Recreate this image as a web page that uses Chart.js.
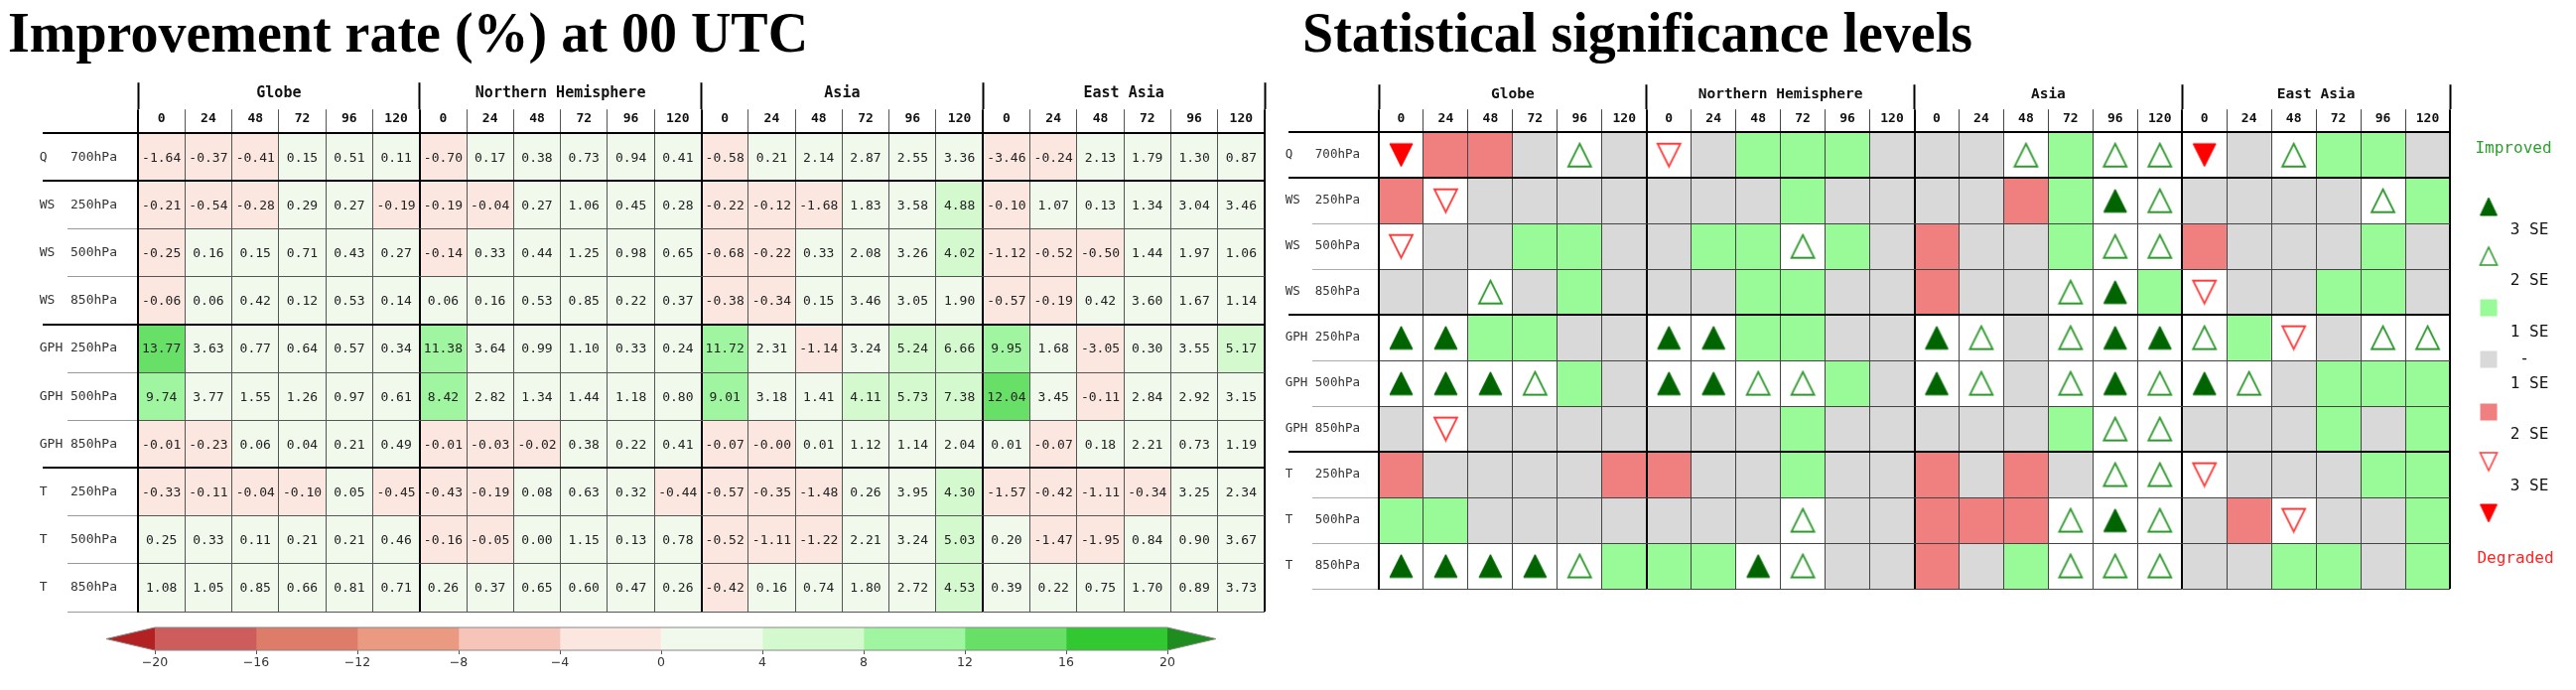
<!DOCTYPE html>
<html>
<head>
<meta charset="utf-8">
<script src="https://cdn.jsdelivr.net/npm/chart.js@4.4.1/dist/chart.umd.min.js"></script>
<style>
  html, body { margin: 0; padding: 0; background: #fff; }
  body { width: 2595px; height: 695px; position: relative; overflow: hidden; }
  canvas { position: absolute; }
  #rateChart { left: 0; top: 0; }
  #barChart { left: 0; top: 620px; }
  #sigChart { left: 1280px; top: 0; }
</style>
</head>
<body>
<canvas id="rateChart" width="1280" height="695"></canvas>
<canvas id="barChart" width="1280" height="75"></canvas>
<canvas id="sigChart" width="1315" height="695"></canvas>
<script>
// ---- data ----
const regions = ['Globe', 'Northern Hemisphere', 'Asia', 'East Asia'];
const leadHours = [0, 24, 48, 72, 96, 120];
const rowVars = ['Q', 'WS', 'WS', 'WS', 'GPH', 'GPH', 'GPH', 'T', 'T', 'T'];
const rowLevels = ['700hPa', '250hPa', '500hPa', '850hPa', '250hPa', '500hPa', '850hPa', '250hPa', '500hPa', '850hPa'];

// improvement rate (%), rows as above, columns = lead hours
const rateGlobe = [
  [-1.64, -0.37, -0.41, 0.15, 0.51, 0.11],
  [-0.21, -0.54, -0.28, 0.29, 0.27, -0.19],
  [-0.25, 0.16, 0.15, 0.71, 0.43, 0.27],
  [-0.06, 0.06, 0.42, 0.12, 0.53, 0.14],
  [13.77, 3.63, 0.77, 0.64, 0.57, 0.34],
  [9.74, 3.77, 1.55, 1.26, 0.97, 0.61],
  [-0.01, -0.23, 0.06, 0.04, 0.21, 0.49],
  [-0.33, -0.11, -0.04, -0.10, 0.05, -0.45],
  [0.25, 0.33, 0.11, 0.21, 0.21, 0.46],
  [1.08, 1.05, 0.85, 0.66, 0.81, 0.71]
];
const rateNH = [
  [-0.70, 0.17, 0.38, 0.73, 0.94, 0.41],
  [-0.19, -0.04, 0.27, 1.06, 0.45, 0.28],
  [-0.14, 0.33, 0.44, 1.25, 0.98, 0.65],
  [0.06, 0.16, 0.53, 0.85, 0.22, 0.37],
  [11.38, 3.64, 0.99, 1.10, 0.33, 0.24],
  [8.42, 2.82, 1.34, 1.44, 1.18, 0.80],
  [-0.01, -0.03, -0.02, 0.38, 0.22, 0.41],
  [-0.43, -0.19, 0.08, 0.63, 0.32, -0.44],
  [-0.16, -0.05, 0.00, 1.15, 0.13, 0.78],
  [0.26, 0.37, 0.65, 0.60, 0.47, 0.26]
];
const rateAsia = [
  [-0.58, 0.21, 2.14, 2.87, 2.55, 3.36],
  [-0.22, -0.12, -1.68, 1.83, 3.58, 4.88],
  [-0.68, -0.22, 0.33, 2.08, 3.26, 4.02],
  [-0.38, -0.34, 0.15, 3.46, 3.05, 1.90],
  [11.72, 2.31, -1.14, 3.24, 5.24, 6.66],
  [9.01, 3.18, 1.41, 4.11, 5.73, 7.38],
  [-0.07, -0.004, 0.01, 1.12, 1.14, 2.04],
  [-0.57, -0.35, -1.48, 0.26, 3.95, 4.30],
  [-0.52, -1.11, -1.22, 2.21, 3.24, 5.03],
  [-0.42, 0.16, 0.74, 1.80, 2.72, 4.53]
];
const rateEA = [
  [-3.46, -0.24, 2.13, 1.79, 1.30, 0.87],
  [-0.10, 1.07, 0.13, 1.34, 3.04, 3.46],
  [-1.12, -0.52, -0.50, 1.44, 1.97, 1.06],
  [-0.57, -0.19, 0.42, 3.60, 1.67, 1.14],
  [9.95, 1.68, -3.05, 0.30, 3.55, 5.17],
  [12.04, 3.45, -0.11, 2.84, 2.92, 3.15],
  [0.01, -0.07, 0.18, 2.21, 0.73, 1.19],
  [-1.57, -0.42, -1.11, -0.34, 3.25, 2.34],
  [0.20, -1.47, -1.95, 0.84, 0.90, 3.67],
  [0.39, 0.22, 0.75, 1.70, 0.89, 3.73]
];

// significance: F = improved 3 SE, H = improved 2 SE, G = improved 1 SE,
// N = within 1 SE, R = degraded 1 SE, h = degraded 2 SE, f = degraded 3 SE
const sigGlobe = ['fRRNHN', 'RhNNNN', 'hNNGGN', 'NNHNGN', 'FFGGNN', 'FFFHGN', 'NhNNNN', 'RNNNNR', 'GGNNNN', 'FFFFHG'];
const sigNH    = ['hNGGGN', 'NNNGNN', 'NGGHGN', 'NNGGNN', 'FFGGNN', 'FFHHGN', 'NNNGNN', 'RNNGNN', 'NNNHNN', 'GGFHNN'];
const sigAsia  = ['NNHGHH', 'NNRGFH', 'RNNGHH', 'RNNHFG', 'FHNHFF', 'FHNHFH', 'NNNGHH', 'RNRNHH', 'RRRHFH', 'RNGHHH'];
const sigEA    = ['fNHGGN', 'NNNNHG', 'RNNNGN', 'hNNGGN', 'HGhNHH', 'FHNGGG', 'NNNGNG', 'hNNNGG', 'NRhNNG', 'NNGGNG'];

const cbarEdges = [-20, -16, -12, -8, -4, 0, 4, 8, 12, 16, 20];
const cbarColors = ['#cd5c5c', '#de7c6a', '#ea9a80', '#f6c4b8', '#fce6e0', '#f1f8ec', '#d5f9cf', '#a0f6a0', '#68e068', '#32c832'];
const cbarUnder = '#b22222';
const cbarOver = '#1f8c1f';
const legendLabels = ['3 SE', '2 SE', '1 SE', '-', '1 SE', '2 SE', '3 SE'];

// ---- helpers ----
const rates = [rateGlobe, rateNH, rateAsia, rateEA];
const sigs = [sigGlobe, sigNH, sigAsia, sigEA];
const colKeys = regions.flatMap(g => leadHours.map(h => g + ' ' + h));
const rowLabels = rowVars.map((v, i) => v.padEnd(4, ' ') + rowLevels[i]);
const thickRows = [0, 1, 4, 7];
const nLead = leadHours.length;

const rateAt = (r, c) => rates[Math.floor(c / nLead)][r][c % nLead];
const sigAt = (r, c) => sigs[Math.floor(c / nLead)][r][c % nLead];

function rateColor(v) {
  if (v < cbarEdges[0]) return cbarUnder;
  if (v >= cbarEdges[cbarEdges.length - 1]) return cbarOver;
  const i = cbarEdges.findIndex((e, k) => v >= e && v < cbarEdges[k + 1]);
  return cbarColors[i];
}
const sigCellColor = { G: '#98fb98', N: '#d9d9d9', R: '#f08080', F: '#ffffff', H: '#ffffff', h: '#ffffff', f: '#ffffff' };

function triangleImage(w, h, down, fill, stroke, lw) {
  const cv = document.createElement('canvas');
  cv.width = w + 4; cv.height = h + 4;
  const c = cv.getContext('2d');
  c.beginPath();
  if (down) { c.moveTo(2, 2); c.lineTo(2 + w, 2); c.lineTo(2 + w / 2, 2 + h); }
  else { c.moveTo(2 + w / 2, 2); c.lineTo(2 + w, 2 + h); c.lineTo(2, 2 + h); }
  c.closePath();
  if (fill) { c.fillStyle = fill; c.fill(); }
  if (stroke) { c.lineWidth = lw; c.strokeStyle = stroke; c.stroke(); }
  return cv;
}
const symbolImages = {
  F: triangleImage(23, 23, false, '#006400', '#006400', 1),
  H: triangleImage(23, 23, false, '#ffffff', '#2e9a2e', 1.8),
  h: triangleImage(23, 23, true, '#ffffff', '#ff3b3b', 1.8),
  f: triangleImage(23, 23, true, '#ff0000', '#ff0000', 1)
};
const legendImages = {
  F: triangleImage(17, 18, false, '#006400', '#006400', 1),
  H: triangleImage(17, 18, false, '#ffffff', '#2e9a2e', 1.6),
  h: triangleImage(17, 18, true, '#ffffff', '#ff3b3b', 1.6),
  f: triangleImage(17, 18, true, '#ff0000', '#ff0000', 1)
};

Chart.defaults.font.family = '"DejaVu Sans Mono", monospace';
Chart.defaults.color = '#222';

const isEdge = c => c.index === undefined || c.index % nLead === 0;
const isThickRow = c => thickRows.includes(c.index);

// shared table axes: x = columns, xg = region headers, y = rows
function tableScales(s) {
  return {
    x: {
      type: 'category', position: 'top', offset: true,
      grid: {
        offset: true, z: 1,
        lineWidth: c => isEdge(c) ? 2 : 1,
        color: c => isEdge(c) ? '#000' : s.inner,
        tickLength: s.colTick,
        tickWidth: c => isEdge(c) ? 2 : 1,
        tickColor: c => isEdge(c) ? '#000' : s.inner
      },
      border: { display: true, width: 2, color: '#000', z: 1 },
      ticks: {
        autoSkip: false, maxRotation: 0, minRotation: 0, padding: s.colPad, color: '#111',
        font: { size: s.colFont, weight: 'bold' },
        callback: (v, i) => String(leadHours[i % nLead])
      },
      afterFit: sc => { sc.height = s.colTick; }
    },
    xg: {
      type: 'category', position: 'top', offset: true, weight: 1, labels: regions,
      grid: { offset: true, drawOnChartArea: false, tickLength: s.grpTick, tickWidth: 2, tickColor: '#000' },
      border: { display: false },
      ticks: { autoSkip: false, maxRotation: 0, padding: s.grpPad, color: '#111', font: { size: s.grpFont, weight: 'bold' } },
      afterFit: sc => { sc.height = s.grpHeight; }
    },
    y: {
      type: 'linear', min: 0, max: rowLabels.length, reverse: true,
      afterBuildTicks: sc => { sc.ticks = rowLabels.map((_, i) => ({ value: i + 0.5 })); },
      grid: {
        offset: true, z: 1,
        lineWidth: c => isThickRow(c) ? 2 : 1,
        color: c => isThickRow(c) ? '#000' : s.inner,
        tickLength: s.rowTick,
        tickWidth: c => isThickRow(c) ? 2 : 1,
        tickColor: c => isThickRow(c) ? '#000' : s.rowRule
      },
      border: { display: true, width: 2, color: '#000', z: 1 },
      ticks: {
        crossAlign: 'near', padding: s.rowPad, color: '#333',
        font: { size: s.rowFont },
        callback: (v, i) => rowLabels[i]
      },
      afterFit: sc => { sc.width = s.yWidth; }
    }
  };
}

// thick row rules reach further left into the label column
const rowRules = {
  id: 'rowRules',
  afterDraw(chart, args, opts) {
    const { ctx, chartArea } = chart;
    const y = chart.scales.y;
    ctx.save();
    ctx.strokeStyle = '#000';
    ctx.lineWidth = 2;
    thickRows.forEach(b => {
      const py = Math.round(y.getPixelForValue(b));
      ctx.beginPath();
      ctx.moveTo(opts.from, py);
      ctx.lineTo(chartArea.left, py);
      ctx.stroke();
    });
    ctx.restore();
  }
};

// lets the heading start right of the row-label column
const titleShift = {
  id: 'titleShift',
  afterLayout(chart, args, opts) {
    const t = chart.titleBlock;
    if (t && opts.dx) { t.left += opts.dx; t.right += opts.dx; }
  }
};

const cellText = {
  id: 'cellText',
  afterDatasetsDraw(chart) {
    const ctx = chart.ctx;
    ctx.save();
    ctx.font = '13px "DejaVu Sans Mono"';
    ctx.fillStyle = '#222';
    ctx.textAlign = 'center';
    ctx.textBaseline = 'middle';
    chart.data.datasets.forEach((ds, i) => {
      chart.getDatasetMeta(i).data.forEach((bar, c) => {
        const p = bar.getCenterPoint();
        ctx.fillText(ds.values[c].toFixed(2), p.x, p.y + 1);
      });
    });
    ctx.restore();
  }
};

const titleFont = { family: '"Liberation Serif", "Times New Roman", serif', size: 56, weight: 'bold' };

// ---- left: improvement rate table ----
new Chart(document.getElementById('rateChart'), {
  type: 'bar',
  data: {
    labels: colKeys,
    datasets: rowLabels.map((lab, r) => ({
      label: lab,
      data: colKeys.map(() => [r, r + 1]),
      values: colKeys.map((k, c) => rateAt(r, c)),
      backgroundColor: colKeys.map((k, c) => rateColor(rateAt(r, c))),
      borderWidth: 0,
      grouped: false,
      barPercentage: 1,
      categoryPercentage: 1
    }))
  },
  options: {
    responsive: false, animation: false, events: [], devicePixelRatio: 1,
    layout: { padding: { left: 8, right: 6, top: 0, bottom: 79 } },
    plugins: {
      legend: { display: false },
      tooltip: { enabled: false },
      title: { display: true, text: 'Improvement rate (%) at 00 UTC', align: 'start', color: '#000', font: titleFont, padding: { top: 4, bottom: 0 } },
      rowRules: { from: 43 }
    },
    scales: tableScales({
      inner: '#555', rowRule: '#999',
      colTick: 24, colPad: -17, colFont: 13,
      grpTick: 27, grpPad: -20, grpFont: 15, grpHeight: 39,
      rowTick: 71, rowPad: -50, rowFont: 13, yWidth: 131
    })
  },
  plugins: [cellText, rowRules]
});

// ---- colour bar ----
const cbarEnds = {
  id: 'cbarEnds',
  afterDatasetsDraw(chart) {
    const { ctx, chartArea: a } = chart;
    const x = chart.scales.x;
    const x0 = x.getPixelForValue(cbarEdges[0]);
    const x1 = x.getPixelForValue(cbarEdges[cbarEdges.length - 1]);
    const ext = (x1 - x0) * 0.048;
    const mid = (a.top + a.bottom) / 2;
    ctx.save();
    ctx.fillStyle = cbarUnder;
    ctx.beginPath(); ctx.moveTo(x0, a.top); ctx.lineTo(x0 - ext, mid); ctx.lineTo(x0, a.bottom); ctx.closePath(); ctx.fill();
    ctx.fillStyle = cbarOver;
    ctx.beginPath(); ctx.moveTo(x1, a.top); ctx.lineTo(x1 + ext, mid); ctx.lineTo(x1, a.bottom); ctx.closePath(); ctx.fill();
    ctx.strokeStyle = '#888';
    ctx.lineWidth = 1;
    ctx.beginPath();
    ctx.moveTo(x0 - ext, mid); ctx.lineTo(x0, a.top); ctx.lineTo(x1, a.top); ctx.lineTo(x1 + ext, mid);
    ctx.lineTo(x1, a.bottom); ctx.lineTo(x0, a.bottom); ctx.closePath();
    ctx.stroke();
    ctx.restore();
  }
};

new Chart(document.getElementById('barChart'), {
  type: 'bar',
  data: {
    labels: [''],
    datasets: cbarColors.map((col, i) => ({
      data: [[cbarEdges[i], cbarEdges[i + 1]]],
      backgroundColor: col,
      borderWidth: 0,
      grouped: false,
      barPercentage: 1,
      categoryPercentage: 1
    }))
  },
  options: {
    indexAxis: 'y', responsive: false, animation: false, events: [], devicePixelRatio: 1,
    layout: { padding: { left: 156, right: 104, top: 12, bottom: 0 } },
    plugins: { legend: { display: false }, tooltip: { enabled: false } },
    scales: {
      y: { display: false },
      x: {
        type: 'linear', min: cbarEdges[0], max: cbarEdges[cbarEdges.length - 1], position: 'bottom',
        ticks: {
          stepSize: 4, padding: 1, color: '#333',
          font: { family: '"DejaVu Sans", sans-serif', size: 12.5 },
          callback: v => v < 0 ? '\u2212' + Math.abs(v) : String(v)
        },
        grid: { drawOnChartArea: false, tickLength: 4, tickColor: '#555' },
        border: { display: false },
        afterFit: sc => { sc.height = 40; }
      }
    }
  },
  plugins: [cbarEnds]
});

// ---- right: significance table ----
const sigLegend = {
  id: 'sigLegend',
  afterDraw(chart) {
    const { ctx, chartArea: a } = chart;
    const sx = a.right + 39;
    const lx = a.right + 80;
    ctx.save();
    ctx.textAlign = 'center';
    ctx.textBaseline = 'middle';
    ctx.font = '16px "DejaVu Sans Mono"';
    ctx.fillStyle = '#2ca02c';
    ctx.fillText('Improved', a.right + 64, 150);
    ctx.fillStyle = '#ff2222';
    ctx.fillText('Degraded', a.right + 66, 563);
    const marks = [['F', 208], ['H', 258], ['G', 310], ['N', 362], ['R', 415], ['h', 465], ['f', 517]];
    marks.forEach(([code, y]) => {
      const img = legendImages[code];
      if (img) {
        ctx.drawImage(img, sx - img.width / 2, y - img.height / 2);
      } else {
        ctx.fillStyle = sigCellColor[code];
        ctx.fillRect(sx - 8.5, y - 8.5, 17, 17);
      }
    });
    const labelY = [232, 283, 335, 362, 387, 438, 490];
    ctx.fillStyle = '#111';
    legendLabels.forEach((t, i) => {
      ctx.fillText(t, t === '-' ? lx - 5 : lx, labelY[i]);
    });
    ctx.restore();
  }
};

const sigCells = [];
rowLabels.forEach((lab, r) => colKeys.forEach((k, c) => sigCells.push({ r, c, code: sigAt(r, c) })));

const symbolDatasets = ['F', 'H', 'h', 'f'].map(code => ({
  type: 'line',
  showLine: false,
  order: -1,
  data: sigCells.filter(s => s.code === code).map(s => ({ x: colKeys[s.c], y: s.r + 0.5 })),
  pointStyle: symbolImages[code],
  pointRadius: 12,
  pointHoverRadius: 12
}));

new Chart(document.getElementById('sigChart'), {
  type: 'bar',
  data: {
    labels: colKeys,
    datasets: symbolDatasets.concat(rowLabels.map((lab, r) => ({
      label: lab,
      data: colKeys.map(() => [r, r + 1]),
      backgroundColor: colKeys.map((k, c) => sigCellColor[sigAt(r, c)]),
      borderWidth: 0,
      grouped: false,
      barPercentage: 1,
      categoryPercentage: 1
    })))
  },
  options: {
    responsive: false, animation: false, events: [], devicePixelRatio: 1,
    layout: { padding: { left: 12, right: 127, top: 0, bottom: 102 } },
    plugins: {
      legend: { display: false },
      tooltip: { enabled: false },
      title: { display: true, text: 'Statistical significance levels', align: 'start', color: '#000', font: titleFont, padding: { top: 4, bottom: 0 } },
      titleShift: { dx: 20 },
      rowRules: { from: 1298 - 1280 }
    },
    scales: tableScales({
      inner: '#444', rowRule: '#aaa',
      colTick: 23, colPad: -17, colFont: 13,
      grpTick: 25, grpPad: -19, grpFont: 14.5, grpHeight: 39,
      rowTick: 67, rowPad: -48, rowFont: 12.5, yWidth: 97
    })
  },
  plugins: [rowRules, titleShift, sigLegend]
});
</script>
</body>
</html>
